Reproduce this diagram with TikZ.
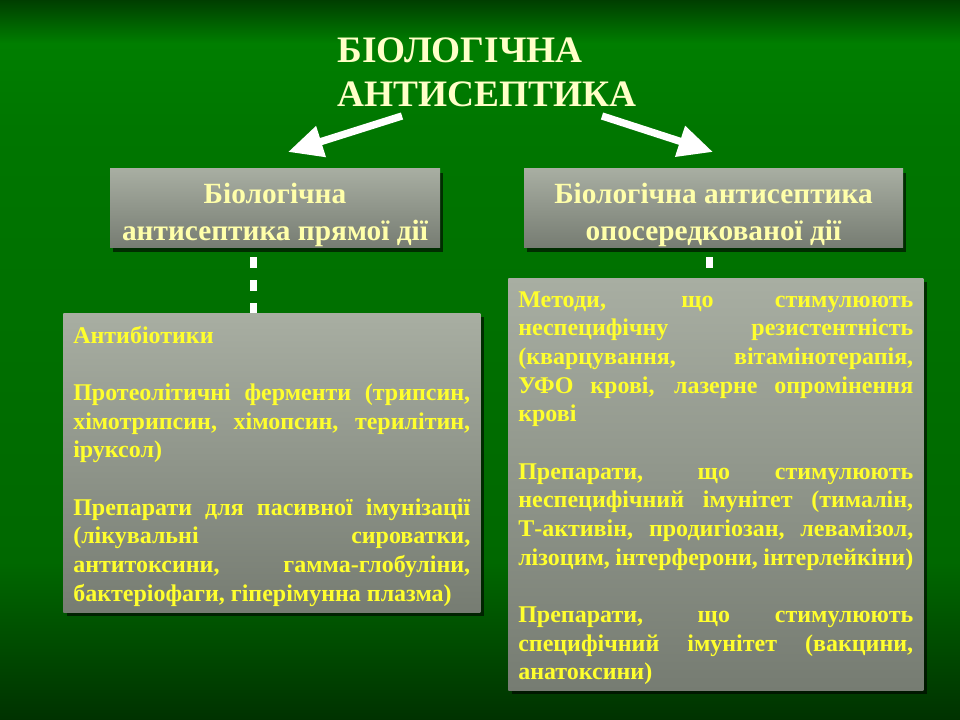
\documentclass[tikz,border=0pt]{standalone}
\usepackage{fontspec}
\setmainfont{Liberation Serif}
\usetikzlibrary{arrows.meta,shadows}

\definecolor{bgtop}{RGB}{0,62,0}
\definecolor{bgband}{RGB}{0,126,0}
\definecolor{bgmid}{RGB}{0,118,0}
\definecolor{bgmidlow}{RGB}{0,104,0}
\definecolor{bgbot}{RGB}{0,50,0}
\definecolor{boxtop}{RGB}{168,174,162}
\definecolor{boxbot}{RGB}{118,124,114}
\definecolor{titleyellow}{RGB}{255,255,200}
\definecolor{headyellow}{RGB}{255,255,170}
\definecolor{bodyyellow}{RGB}{255,255,45}

\pgfdeclareverticalshading{slidebg}{100bp}{color(0bp)=(bgbot); color(25bp)=(bgbot); color(36bp)=(bgmidlow); color(66bp)=(bgmid); color(72bp)=(bgband); color(75bp)=(bgtop); color(100bp)=(bgtop)}

\newcommand{\jl}[1]{\makebox[\linewidth][s]{#1}\\}

\tikzstyle{title_text}=[align=left,text=titleyellow,font=\fontsize{28}{33}\selectfont\bfseries]
\tikzstyle{head_box}=[top color=boxtop,bottom color=boxbot,drop shadow={shadow xshift=2.5pt,shadow yshift=-3pt,opacity=0.6,fill=black},minimum height=59.25pt,inner sep=0pt,align=center,text=headyellow,font=\fontsize{22}{27.75}\selectfont\bfseries]
\tikzstyle{body_box}=[top color=boxtop,bottom color=boxbot,drop shadow={shadow xshift=2.5pt,shadow yshift=-3pt,opacity=0.6,fill=black},inner xsep=7.5pt,inner ysep=0pt,anchor=north west,text=bodyyellow,font=\fontsize{18}{21.5}\selectfont\bfseries]
\tikzstyle{white_arrow}=[white,line width=5.5pt,-{Triangle[length=26pt,width=23pt]}]
\tikzstyle{white_dash}=[white,line width=5.25pt,dash pattern=on 8.25pt off 9pt,dash phase=10.5pt]

\begin{document}
\begin{tikzpicture}[x=0.75pt,y=-0.75pt]

\useasboundingbox (0,0) rectangle (960,720);
\shade[shading=slidebg] (0,0) rectangle (960,720);

\node[title_text,anchor=west] (title) at (333,72.5) {БІОЛОГІЧНА\\АНТИСЕПТИКА};

\node[head_box,minimum width=247.5pt] (hdL) at (275,208.5) {\rule{0pt}{24.5pt}Біологічна\\антисептика прямої дії};
\node[head_box,minimum width=284.25pt] (hdR) at (713.5,208.5) {\rule{0pt}{24.5pt}Біологічна антисептика\\опосередкованої дії};

\node[body_box] (bodyL) at (63,313) {\parbox[c][224.25pt][t]{297.75pt}{%
\rule{0pt}{22.5pt}Антибіотики\\[21.5pt]
\jl{Протеолітичні ферменти (трипсин,}
\jl{хімотрипсин, хімопсин, терилітин,}
іруксол)\\[21.5pt]
\jl{Препарати для пасивної імунізації}
\jl{(лікувальні сироватки,}
\jl{антитоксини, гамма-глобуліни,}
бактеріофаги, гіперімунна плазма)}};

\node[body_box] (bodyR) at (508,278) {\parbox[c][309pt][t]{296.25pt}{%
\jl{\rule{0pt}{21.75pt}Методи, що стимулюють}
\jl{неспецифічну резистентність}
\jl{(кварцування, вітамінотерапія,}
\jl{УФО крові, лазерне опромінення}
крові\\[21.5pt]
\jl{Препарати, що стимулюють}
\jl{неспецифічний імунітет (тималін,}
\jl{Т-активін, продигіозан, левамізол,}
лізоцим, інтерферони, інтерлейкіни)\\[21.5pt]
\jl{Препарати, що стимулюють}
\jl{специфічний імунітет (вакцини,}
анатоксини)}};

\coordinate (arrLtail) at (402,116);
\coordinate (arrLtip) at (288,152);
\coordinate (arrRtail) at (602,116);
\coordinate (arrRtip) at (713,152);

\draw[white_arrow] (arrLtail) -- (arrLtip);
\draw[white_arrow] (arrRtail) -- (arrRtip);

\draw[white_dash] ([xshift=-16pt]hdL.south) -- ([xshift=-16pt]hdL.south |- bodyL.north);
\draw[white_dash] ([xshift=-3pt]hdR.south) -- ([xshift=-3pt]hdR.south |- bodyR.north);

\end{tikzpicture}
\end{document}
